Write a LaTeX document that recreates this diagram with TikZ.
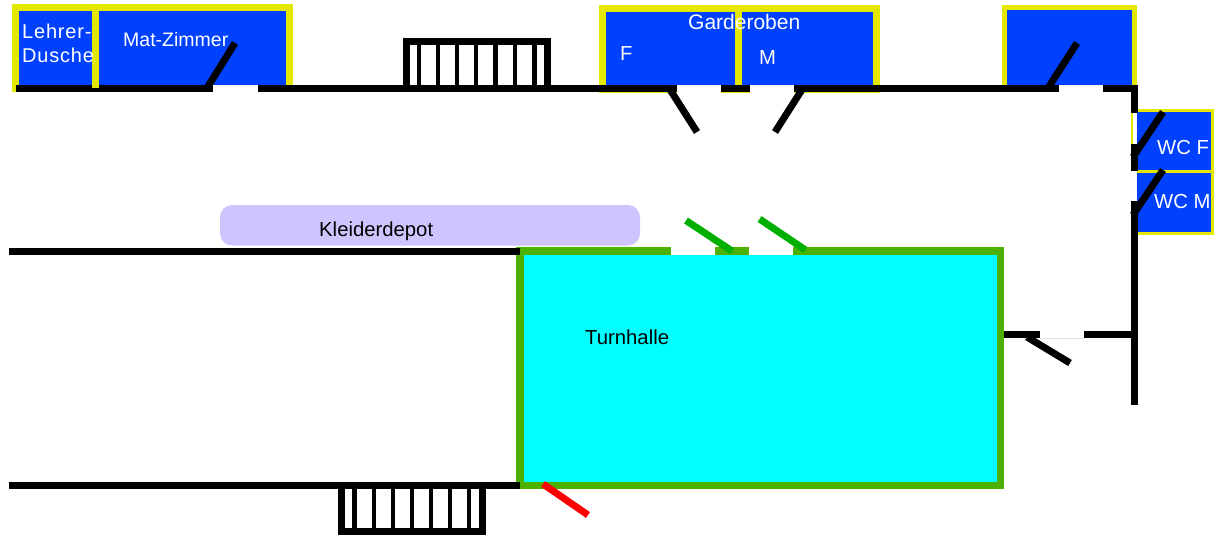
\documentclass[tikz,border=0pt]{standalone}
\usepackage{fontspec}
\setmainfont{Liberation Sans}
\definecolor{roomblue}{RGB}{0,64,255}
\definecolor{roomedge}{RGB}{228,232,0}
\definecolor{hallgreen}{RGB}{76,176,0}
\definecolor{hallfill}{RGB}{0,255,255}
\definecolor{doorgreen}{RGB}{0,176,0}
\definecolor{depot}{RGB}{208,196,255}
\tikzset{
  room/.style={draw=roomedge,fill=roomblue,line width=7},
  wall/.style={draw=black,line width=7},
  leaf/.style={draw=black,line width=7},
  gap/.style={fill=white},
  stairbar/.style={draw=black,line width=4.2},
  lab/.style={anchor=base west,inner sep=0,font=\fontsize{20.3}{24}\selectfont},
  roomlab/.style={lab,text=white}
}
\begin{document}
\begin{tikzpicture}
  [x=1pt,y=-1pt]
  \useasboundingbox (0,0) rectangle (1214,535);

  % rooms
  \path[room] (15.5,7.5) rectangle (289.5,88.5);
  \path[room] (602.5,9) rectangle (876.5,89.5);
  \path[room,draw=none] (1004.5,7.7) rectangle (1134.5,88);
  \path[draw=roomedge,line width=4.7] (1004.5,88) -- (1004.5,7.7) -- (1134.5,7.7) -- (1134.5,88);
  \path[room,line width=3] (1132,110) rectangle (1212,171);
  \path[room,line width=3] (1132,171) rectangle (1212,233);
  \path[draw=roomedge,line width=7] (738.5,9) -- (738.5,85);
  \path[fill=depot] (220,205) [rounded corners=12] rectangle (640,245.5);
  \path[draw=hallgreen,fill=hallfill,line width=7.5] (520,251) rectangle (1000.5,485.5);

  \coordinate (t1) at (16,88.5);
  \coordinate (t2) at (213,88.5);
  \coordinate (t3) at (258,88.5);
  \coordinate (t4) at (677,88.5);
  \coordinate (t5) at (721,88.5);
  \coordinate (t6) at (750,88.5);
  \coordinate (t7) at (794,88.5);
  \coordinate (t8) at (1059,88.5);
  \coordinate (t9) at (1103,88.5);
  \coordinate (c1) at (1137.5,88.5);
  \coordinate (r1) at (1134,85);
  \coordinate (r2) at (1134,113);
  \coordinate (r3) at (1134,144);
  \coordinate (r4) at (1134,171);
  \coordinate (r5) at (1134,201);
  \coordinate (r6) at (1134,405);
  \coordinate (h1) at (1004,334.5);
  \coordinate (h2) at (1040,334.5);
  \coordinate (h3) at (1084,334.5);
  \coordinate (h4) at (1137,334.5);
  \coordinate (l1) at (9,251);
  \coordinate (l2) at (520,251);
  \coordinate (l3) at (9,485.5);
  \coordinate (l4) at (520,485.5);

  % door openings
  \path[gap] (213,85) rectangle (258,92);
  \path[gap] (677,85) rectangle (721,92.6);
  \path[gap] (750,85) rectangle (794,92.6);
  \path[gap] (1059,85) rectangle (1103,92);
  \path[gap] (1132.5,113) rectangle (1137,144);
  \path[gap] (1130.5,171) rectangle (1137,201);
  \path[gap] (671,247.2) rectangle (715,254.6);
  \path[gap] (749,247.2) rectangle (793,254.6);

  % walls
  \path[wall]
        (t1) edge (t2)
        (t3) edge (t4)
        (t5) edge (t6)
        (t7) edge (t8)
        (t9) edge (c1)
        (r1) edge (r2)
        (r3) edge (r4)
        (r5) edge (r6)
        (h1) edge (h2)
        (h3) edge (h4)
        (l1) edge (l2)
        (l3) edge (l4);
  \path[draw=roomedge,line width=7] (95,7.5) -- (95,87.5);
  \path[draw=black!12,line width=.7] (h2)++(0,3.5) -- ++(44,0);

  % stairs
  \path[draw=black,line width=7] (406.5,88.5) -- (406.5,42) -- (547.5,42) -- (547.5,88.5);
  \foreach \bx in {419,438,457,476,495.5,515,534.5}
    \path[stairbar] (\bx,42) -- (\bx,88);
  \path[draw=black,line width=7] (341.5,485.5) -- (341.5,531.5) -- (482.5,531.5) -- (482.5,485.5);
  \foreach \bx in {354.5,373.7,392.7,412,431,450,469}
    \path[stairbar] (\bx,486) -- (\bx,531);

  % doors
  \coordinate (d1) at (207,88);
  \coordinate (d1e) at (235,43);
  \coordinate (d2) at (669,88);
  \coordinate (d2e) at (697,132);
  \coordinate (d3) at (803,88);
  \coordinate (d3e) at (775,132);
  \coordinate (d4) at (1048,88);
  \coordinate (d4e) at (1077,43);
  \coordinate (d5) at (1133,157);
  \coordinate (d5e) at (1163,112);
  \coordinate (d6) at (1133,215);
  \coordinate (d6e) at (1163,170);
  \coordinate (d7) at (1027,337);
  \coordinate (d7e) at (1070,363);
  \coordinate (d8) at (732,251);
  \coordinate (d8e) at (686,220.5);
  \coordinate (d9) at (805.5,250);
  \coordinate (d9e) at (759.5,219);
  \coordinate (d10) at (543,484);
  \coordinate (d10e) at (588,515);
  \path[leaf]
        (d1) edge (d1e)
        (d2) edge (d2e)
        (d3) edge (d3e)
        (d4) edge (d4e)
        (d5) edge (d5e)
        (d6) edge (d6e)
        (d7) edge (d7e);
  \path[leaf,draw=doorgreen]
        (d8) edge (d8e)
        (d9) edge (d9e);
  \path[leaf,draw=red] (d10) edge (d10e);

  % labels
  \node[roomlab,font=\fontsize{20}{24}\selectfont\addfontfeature{LetterSpace=4}] (dusche1) at (22,39) {Lehrer-};
  \node[roomlab,font=\fontsize{20}{24}\selectfont\addfontfeature{LetterSpace=4}] (dusche2) at (22,63) {Dusche};
  \node[roomlab,font=\fontsize{19.5}{24}\selectfont] (mat) at (123,47) {Mat-Zimmer};
  \node[roomlab,font=\fontsize{21}{24}\selectfont] (garde) at (688,30) {Garderoben};
  \node[roomlab] (gf) at (620,60) {F};
  \node[roomlab] (gm) at (759,64) {M};
  \node[roomlab] (wcf) at (1157,154) {WC F};
  \node[roomlab] (wcm) at (1154,208) {WC M};
  \node[lab] (kleider) at (319,236) {Kleiderdepot};
  \node[lab] (halle) at (585,344) {Turnhalle};
\end{tikzpicture}
\end{document}
